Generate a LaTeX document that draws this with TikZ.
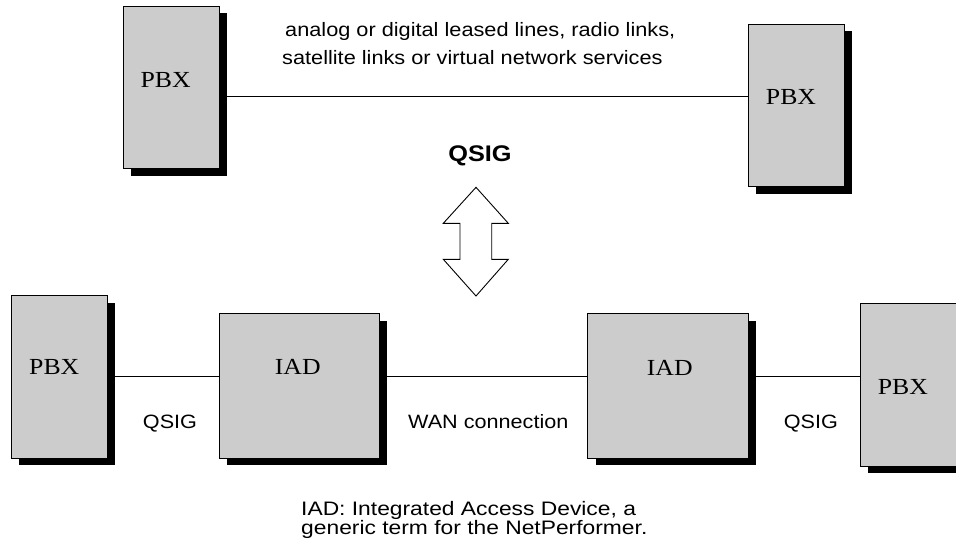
\documentclass[tikz,border=0pt]{standalone}
\usepackage{fontspec}
\setmainfont{Liberation Sans}[FakeStretch=1.12]
\newfontfamily\serifw{Liberation Serif}[FakeStretch=1.12]
\newfontfamily\capfont{Liberation Sans}[FakeStretch=1.17]
\usetikzlibrary{shadows}
\definecolor{boxgray}{RGB}{204,204,204}
\tikzset{
  devbox/.style={draw=black, line width=0.8pt, fill=boxgray, inner sep=0pt,
    general shadow={shadow xshift=8pt, shadow yshift=-7pt, fill=black}},
  pbx/.style={devbox, minimum width=96pt, minimum height=162.5pt},
  iad/.style={devbox, minimum width=160.5pt, minimum height=144.6pt},
  devlabel/.style={font=\serifw\fontsize{23}{23}\selectfont, inner sep=0pt, anchor=base},
  toptxt/.style={font=\fontsize{19.4}{20}\selectfont, inner sep=0pt, anchor=base west},
  captxt/.style={font=\capfont\fontsize{19.5}{17.5}\selectfont, inner sep=0pt, anchor=north west, align=left},
  linklabel/.style={font=\fontsize{19.3}{20}\selectfont, inner sep=0pt, anchor=base},
  biglabel/.style={font=\bfseries\fontsize{22.6}{23}\selectfont, inner sep=0pt, anchor=base},
  conn/.style={draw=black, line width=0.8pt},
  bigarrow/.style={draw=black, line width=0.9pt, fill=white, line join=miter}
}
\begin{document}
\begin{tikzpicture}[x=1pt, y=-1pt]
  \useasboundingbox (0,0) rectangle (956,539);
  \clip (0,0) rectangle (956,539);

  % top row
  \node[pbx] (pbxTL) at (171,87.5) {};
  \node[pbx] (pbxTR) at (796,105.3) {};
  \node[devlabel] (pbxTLl) at (165.7,87) {PBX};
  \node[devlabel] (pbxTRl) at (791,104) {PBX};
  \coordinate (topY) at (0,96.7);
  \draw[conn] (pbxTL.east |- topY) -- (pbxTR.west |- topY);
  \node[toptxt] (t1) at (285,36) {analog or digital leased lines, radio links,};
  \node[toptxt] (t2) at (282,64) {satellite links or virtual network services};

  % QSIG and double arrow
  \node[biglabel] (qsig) at (480,161.7) {QSIG};
  \draw[bigarrow] (476,187.3) -- (443.3,223.3) -- (460,223.3) -- (460,259.3)
    -- (443.3,259.3) -- (476,296) -- (508.3,259.3) -- (491.7,259.3)
    -- (491.7,223.3) -- (508.3,223.3) -- cycle;

  % bottom row
  \node[pbx] (pbxBL) at (59.2,377) {};
  \node[iad] (iad1) at (299.2,386) {};
  \node[iad] (iad2) at (668,386) {};
  \node[pbx] (pbxBR) at (908,384.7) {};
  \node[devlabel] (pbxBLl) at (54.3,374) {PBX};
  \node[devlabel] (iad1l) at (297.8,374) {IAD};
  \node[devlabel] (iad2l) at (669.8,375) {IAD};
  \node[devlabel] (pbxBRl) at (902.8,394.5) {PBX};
  \coordinate (botY) at (0,376);
  \draw[conn] (pbxBL.east |- botY) -- (iad1.west |- botY);
  \draw[conn] (iad1.east |- botY) -- (iad2.west |- botY);
  \draw[conn] (iad2.east |- botY) -- (pbxBR.west |- botY);
  \node[linklabel] (q1) at (170,428) {QSIG};
  \node[linklabel] (wan) at (488.3,428) {WAN connection};
  \node[linklabel] (q2) at (810.8,428) {QSIG};

  % caption
  \node[captxt] (cap) at (301,501.2) {IAD: Integrated Access Device, a\\generic term for the NetPerformer.};
\end{tikzpicture}
\end{document}
